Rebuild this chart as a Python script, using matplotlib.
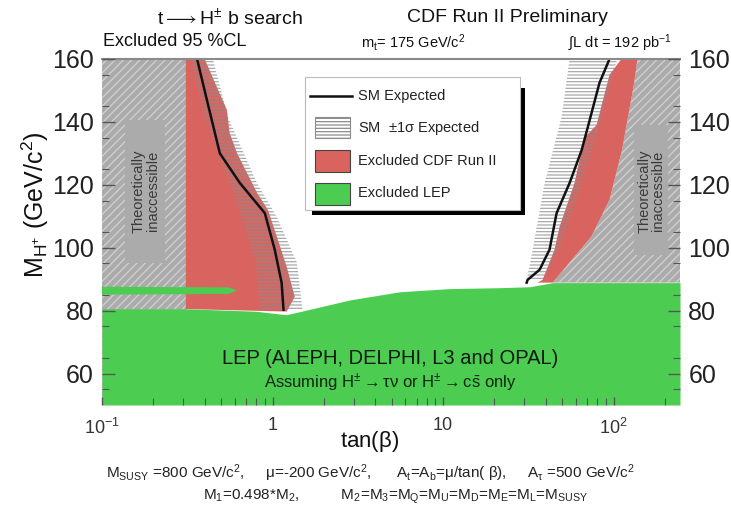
import matplotlib
matplotlib.use("Agg")
import matplotlib.pyplot as plt
from matplotlib import font_manager
from matplotlib.ticker import FixedLocator, NullFormatter

# ---- fonts -------------------------------------------------------------
def pick_font(candidates):
    names = {f.name for f in font_manager.fontManager.ttflist}
    for c in candidates:
        if c in names:
            return c
    return "DejaVu Sans"

MAIN = pick_font(["Liberation Sans Narrow", "Liberation Sans", "Open Sans"])
plt.rcParams["font.family"] = [MAIN, "DejaVu Sans"]
plt.rcParams["mathtext.fontset"] = "custom"
plt.rcParams["mathtext.rm"] = MAIN
plt.rcParams["mathtext.it"] = MAIN
plt.rcParams["mathtext.sf"] = MAIN
plt.rcParams["mathtext.default"] = "regular"
plt.rcParams["hatch.linewidth"] = 0.9

# ---- data --------------------------------------------------------------
# axis limits
tanb_range = [0.1, 245.0]
mass_range = [50.0, 160.0]

# theoretically inaccessible regions
tanb_theory_low = 0.31
theory_high_mass = [160, 152.4, 131, 115.2, 103.5, 95.2, 88.9]
theory_high_tanb = [138, 132, 112, 94.6, 74, 55, 43.9]

# CDF Run II excluded (low tan beta), right edge
cdf_lo_mass = [160, 152.4, 143.8, 136.5, 130, 117.5, 112, 103.5, 94, 84.4, 79.7]
cdf_lo_tanb = [0.40, 0.46, 0.54, 0.56, 0.62, 0.81, 0.94, 1.06, 1.21, 1.35, 1.21]
cdf_lo_floor = 80.5

# CDF Run II excluded (high tan beta), left edge
cdf_hi_mass = [160, 155, 139, 135, 120.6, 106.7, 99.4, 89.8, 88.9]
cdf_hi_tanb = [111, 94.6, 79.4, 67.5, 59, 48.2, 45, 38.3, 35.8]

# SM expected limits
exp_lo_mass = [160, 147, 130, 120.6, 111, 99.4, 88.9, 80.3]
exp_lo_tanb = [0.361, 0.412, 0.491, 0.643, 0.901, 1.03, 1.13, 1.16]
exp_hi_mass = [160, 152.4, 138, 131, 120.6, 111, 99.4, 93, 89.8, 88.9]
exp_hi_tanb = [94.6, 82.6, 70.3, 64.9, 55.2, 46.3, 42.1, 36.8, 31.3, 30.9]

# SM +-1 sigma expected bands
band_lo_mass = [160, 141.6, 120.6, 109.8, 95.2, 80.3]
band_lo_tanb_min = [0.33, 0.40, 0.56, 0.66, 0.80, 0.84]
band_lo_tanb_max = [0.447, 0.547, 0.809, 1.06, 1.39, 1.50]
band_hi_mass = [160, 141.6, 120.6, 99.4, 89.5]
band_hi_tanb_min = [55.2, 49.5, 39.4, 33.5, 30.9]
band_hi_tanb_max = [105, 85, 65, 48, 38]

# LEP excluded region (upper edge)
lep_tanb = [0.1, 0.31, 0.8, 1.2, 1.45, 2.84, 5.57, 10.9, 21.5, 32.2, 44, 245]
lep_mass = [80.6, 80.6, 79.8, 78.7, 79.7, 83.4, 86.0, 87.0, 87.3, 87.6, 88.9, 88.9]
# LEP thin strip at low tan beta
lep_strip_tanb = [0.1, 0.55, 0.62, 0.55, 0.1]
lep_strip_mass = [87.6, 87.4, 86.4, 85.3, 85.1]

# tick labels
mass_ticks = [60, 80, 100, 120, 140, 160]
tanb_ticks = [0.1, 1, 10, 100]
tanb_ticklabels = [r"$10^{-1}$", "1", "10", r"$10^{2}$"]

# ---- colours -----------------------------------------------------------
C_GRAY = "#ababab"
C_GRAY_HATCH = "#d2d2d2"
C_RED = "#d9645f"
C_GREEN = "#4ccd52"
C_BAND = "#8c8c8c"

# ---- figure ------------------------------------------------------------
fig = plt.figure(figsize=(7.31, 5.13), dpi=100)
ax = fig.add_axes([102 / 731, 1 - 405 / 513, (680 - 102) / 731, (405 - 59) / 513])
ax.set_xscale("log")
ax.set_xlim(*tanb_range)
ax.set_ylim(*mass_range)

# theoretically inaccessible (low tan beta)
ax.fill_betweenx(mass_range, [tanb_range[0]] * 2, [tanb_theory_low] * 2,
                 facecolor=C_GRAY, edgecolor=C_GRAY_HATCH, hatch="////",
                 linewidth=0, zorder=1)
# theoretically inaccessible (high tan beta)
ax.fill_betweenx(theory_high_mass, theory_high_tanb,
                 [tanb_range[1]] * len(theory_high_mass),
                 facecolor=C_GRAY, edgecolor=C_GRAY_HATCH, hatch="////",
                 linewidth=0, zorder=1)
# plain patches behind the labels
ax.fill([0.136, 0.234, 0.234, 0.136], [95.2, 95.2, 140.6, 140.6],
        color=C_GRAY, linewidth=0, zorder=1.5)
ax.fill([132, 207, 207, 132], [97.8, 97.8, 139, 139],
        color=C_GRAY, linewidth=0, zorder=1.5)

# CDF excluded regions
ax.fill([tanb_theory_low] + cdf_lo_tanb + [tanb_theory_low],
        [cdf_lo_mass[0]] + cdf_lo_mass + [cdf_lo_floor],
        color=C_RED, linewidth=0, zorder=2)
ax.fill(cdf_hi_tanb + theory_high_tanb[::-1],
        cdf_hi_mass + theory_high_mass[::-1],
        color=C_RED, linewidth=0, zorder=2)

# SM +-1 sigma bands (horizontal hatching)
ax.fill_betweenx(band_lo_mass, band_lo_tanb_min, band_lo_tanb_max,
                 facecolor="none", edgecolor=C_BAND, hatch="-----",
                 linewidth=0, zorder=3, alpha=0.75)
ax.fill_betweenx(band_hi_mass, band_hi_tanb_min, band_hi_tanb_max,
                 facecolor="none", edgecolor=C_BAND, hatch="-----",
                 linewidth=0, zorder=3, alpha=0.75)

# SM expected
ax.plot(exp_lo_tanb, exp_lo_mass, color="#111111", lw=1.8, zorder=4)
ax.plot(exp_hi_tanb, exp_hi_mass, color="#111111", lw=1.8, zorder=4)

# LEP excluded
ax.fill_between(lep_tanb, [mass_range[0]] * len(lep_tanb), lep_mass,
                color=C_GREEN, linewidth=0, zorder=5)
ax.fill(lep_strip_tanb, lep_strip_mass, color=C_GREEN, linewidth=0, zorder=5)

# ---- in-plot text ------------------------------------------------------
ax.text(0.18, 118, "Theoretically\ninaccessible", rotation=90, ha="center",
        va="center", fontsize=10.5, color="#3a3a3a", linespacing=1.0, zorder=6)
ax.text(166, 118, "Theoretically\ninaccessible", rotation=90, ha="center",
        va="center", fontsize=10.5, color="#3a3a3a", linespacing=1.0, zorder=6)
ax.text(4.9, 64.8, "LEP (ALEPH, DELPHI, L3 and OPAL)", ha="center",
        va="center", fontsize=14.5, color="#0d1a0d", zorder=6)
ax.text(4.9, 57.2,
        r"Assuming H$^{\pm}$$\rightarrow$$\tau\nu$ or H$^{\pm}$$\rightarrow$c$\bar{s}$ only",
        ha="center", va="center", fontsize=12, color="#0d260d", zorder=6)

# ---- axes styling ------------------------------------------------------
for s in ["left", "right", "bottom"]:
    ax.spines[s].set_visible(False)
ax.spines["top"].set_color("#8a8a8a")
ax.spines["top"].set_linewidth(1.5)
ax.spines["top"].set_zorder(7)

ax.yaxis.set_major_locator(FixedLocator(mass_ticks))
ax.yaxis.set_minor_locator(FixedLocator(list(range(55, 160, 10))))
ax.tick_params(axis="y", which="both", direction="in", left=True, right=True,
               labelleft=True, labelright=True, colors="#555555",
               labelcolor="#222222", labelsize=18)
ax.tick_params(axis="y", which="major", length=9, width=1.0, pad=6)
ax.tick_params(axis="y", which="minor", length=5, width=0.8)

ax.xaxis.set_major_locator(FixedLocator(tanb_ticks))
ax.set_xticklabels(tanb_ticklabels)
minor_x = [m * d for d in (0.1, 1, 10, 100) for m in range(2, 10) if m * d < 245]
ax.xaxis.set_minor_locator(FixedLocator(minor_x))
ax.xaxis.set_minor_formatter(NullFormatter())
ax.tick_params(axis="x", which="both", direction="in", bottom=True, top=False,
               colors="#555555", labelcolor="#333333", labelsize=13)
ax.tick_params(axis="x", which="major", length=6, width=1.0, pad=9)
ax.tick_params(axis="x", which="minor", length=5, width=0.8)
for a in (ax.xaxis, ax.yaxis):
    a.set_zorder(8)

# ---- legend ------------------------------------------------------------
def px(x, y):
    return x / 731, 1 - y / 513

# shadow and frame
shadow = plt.Rectangle(px(312, 215), (525 - 312) / 731, (215 - 88) / 513,
                       transform=fig.transFigure, facecolor="black",
                       edgecolor="none", zorder=20)
frame = plt.Rectangle(px(305, 210), (520 - 305) / 731, (210 - 77) / 513,
                      transform=fig.transFigure, facecolor="white",
                      edgecolor="#bbbbbb", linewidth=0.8, zorder=21)
fig.patches.extend([shadow, frame])

fig.lines.append(plt.Line2D([310 / 731, 352 / 731], [1 - 96 / 513] * 2,
                            transform=fig.transFigure, color="#111111",
                            lw=1.8, zorder=22))
legend_boxes = [
    (117, 138, "white", C_BAND, "-----"),
    (150, 172, C_RED, "#444444", None),
    (183, 205, C_GREEN, "#444444", None),
]
for y0, y1, fc, ec, h in legend_boxes:
    r = plt.Rectangle(px(315, y1), (350 - 315) / 731, (y1 - y0) / 513,
                      transform=fig.transFigure, facecolor=fc, edgecolor=ec,
                      linewidth=0.8, hatch=h, zorder=22)
    fig.patches.append(r)
legend_texts = [
    (96, "SM Expected"),
    (128, r"SM  $\pm$1$\sigma$ Expected"),
    (161, "Excluded CDF Run II"),
    (193, "Excluded LEP"),
]
for y, s in legend_texts:
    fig.text(358 / 731, 1 - y / 513, s, ha="left", va="center",
             fontsize=10.5, color="#222222", zorder=23)

# ---- titles and labels -------------------------------------------------
fig.text(230 / 731, 1 - 18 / 513, r"t$\longrightarrow$H$^{\pm}$ b search",
         ha="center", va="center", fontsize=14, color="#111111")
fig.text(507 / 731, 1 - 18 / 513, "CDF Run II Preliminary", ha="center",
         va="center", fontsize=14, color="#111111")
fig.text(103 / 731, 1 - 42 / 513, "Excluded 95 %CL", ha="left",
         va="center", fontsize=13, color="#111111")
fig.text(413 / 731, 1 - 43 / 513, r"m$_{t}$= 175 GeV/c$^{2}$", ha="center",
         va="center", fontsize=10.5, color="#111111")
fig.text(620 / 731, 1 - 43 / 513, r"$\int$L dt = 192 pb$^{-1}$", ha="center",
         va="center", fontsize=10.5, color="#111111")

fig.text(370 / 731, 1 - 442 / 513, r"tan($\beta$)", ha="center", va="center",
         fontsize=16, color="#111111")
fig.text(35 / 731, 1 - 205 / 513, r"M$_{H^{+}}$ (GeV/c$^{2}$)", ha="center",
         va="center", rotation=90, fontsize=18, color="#111111")

fig.text(370 / 731, 1 - 473 / 513,
         r"M$_{SUSY}$ =800 GeV/c$^{2}$,     $\mu$=-200 GeV/c$^{2}$,      "
         r"A$_{t}$=A$_{b}$=$\mu$/tan( $\beta$),     A$_{\tau}$ =500 GeV/c$^{2}$",
         ha="center", va="center", fontsize=11, color="#222222")
fig.text(396 / 731, 1 - 497 / 513,
         r"M$_{1}$=0.498*M$_{2}$,          "
         r"M$_{2}$=M$_{3}$=M$_{Q}$=M$_{U}$=M$_{D}$=M$_{E}$=M$_{L}$=M$_{SUSY}$",
         ha="center", va="center", fontsize=11, color="#222222")

fig.savefig("out.png", dpi=100)
